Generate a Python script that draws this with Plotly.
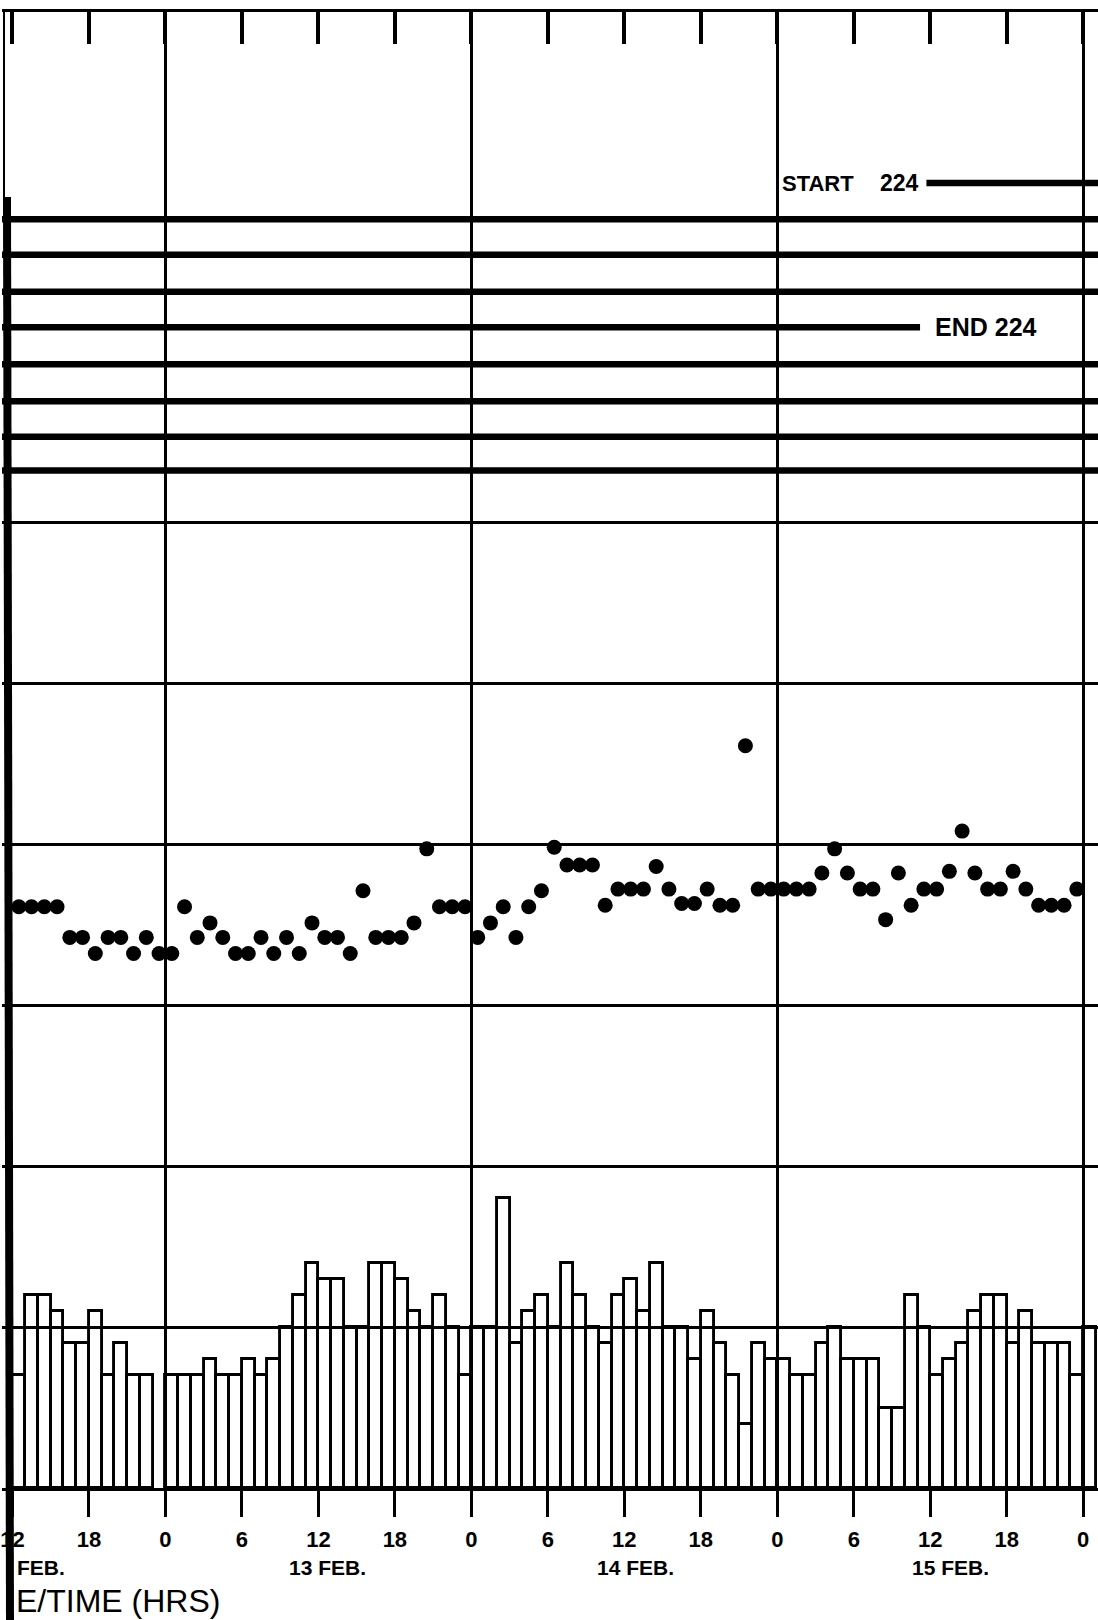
import plotly.graph_objects as go

# ---------------- data ----------------
# hourly bars (counts), hour index = hours since 12 FEB 00:00
bar_hours = list(range(12, 97))
bar_counts = [
    7, 12, 12, 11, 9, 9, 11, 7, 9, 7, 7, None,            # 12 FEB 12h-23h
    7, 7, 7, 8, 7, 7, 8, 7, 8, 10, 12, 14,                 # 13 FEB 0h-11h
    13, 13, 10, 10, 14, 14, 13, 11, 10, 12, 10, 7,         # 13 FEB 12h-23h
    10, 10, 18, 9, 11, 12, 10, 14, 12, 10, 9, 12,          # 14 FEB 0h-11h
    13, 11, 14, 10, 10, 8, 11, 9, 7, 4, 9, 8,              # 14 FEB 12h-23h
    8, 7, 7, 9, 10, 8, 8, 8, 5, 5, 12, 10,                 # 15 FEB 0h-11h
    7, 8, 9, 11, 12, 12, 9, 11, 9, 9, 9, 7,                # 15 FEB 12h-23h
    10,                                                    # 16 FEB 0h
]

# hourly dots
dot_hours = list(range(12, 96))
dot_values = [
    36.1, 36.1, 36.1, 36.1, 34.2, 34.2, 33.2, 34.2, 34.2, 33.2, 34.2, 33.2,
    33.2, 36.1, 34.2, 35.1, 34.2, 33.2, 33.2, 34.2, 33.2, 34.2, 33.2, 35.1,
    34.2, 34.2, 33.2, 37.1, 34.2, 34.2, 34.2, 35.1, 39.7, 36.1, 36.1, 36.1,
    34.2, 35.1, 36.1, 34.2, 36.1, 37.1, 39.8, 38.7, 38.7, 38.7, 36.2, 37.2,
    37.2, 37.2, 38.6, 37.2, 36.3, 36.3, 37.2, 36.2, 36.2, 46.1, 37.2, 37.2,
    37.2, 37.2, 37.2, 38.2, 39.7, 38.2, 37.2, 37.2, 35.3, 38.2, 36.2, 37.2,
    37.2, 38.3, 40.8, 38.2, 37.2, 37.2, 38.3, 37.2, 36.2, 36.2, 36.2, 37.2,
]

# heavy record lines
track_levels = [78.8, 76.6, 74.3, 72.1, 69.8, 67.5, 65.3, 63.2]
track_start = [11.0, 11.0, 11.0, 11.0, 11.0, 11.0, 11.0, 11.0]
track_end = [97.5, 97.5, 97.5, 83.2, 97.5, 97.5, 97.5, 97.5]
start224_level = 81.05
start224_from = 83.7
start224_to = 97.5

tick_hours = list(range(12, 97, 6))
tick_text = ["12", "18", "0", "6", "12", "18", "0", "6", "12", "18", "0", "6", "12", "18", "0"]
day_hours = [24, 48, 72, 96]
grid_levels = [10, 20, 30, 40, 50, 60]
# the scan is cropped on the left: only the visible part of the first date label / axis title
date_labels = ["FEB.", "13 FEB.", "14 FEB.", "15 FEB."]
date_label_hours = [12.2, 36.7, 60.9, 85.6]
axis_title = "E/TIME (HRS)"

# ---------------- layout geometry ----------------
W, H = 1098, 1620
TOP, BOT = 12, 132
PLOT_H = H - TOP - BOT
PX_PER_UNIT = 16.1
Y_MAX = PLOT_H / PX_PER_UNIT
X_RANGE = [11.18, 97.16]
BLACK = "black"
FONT = "Liberation Sans, Arial, sans-serif"


def py(ypx):
    """pixel row -> paper y"""
    return (H - BOT - ypx) / PLOT_H


fig = go.Figure()

fig.add_trace(go.Bar(
    x=[h + 0.5 for h in bar_hours], y=bar_counts, width=1.0,
    marker=dict(color="rgba(0,0,0,0)", line=dict(color=BLACK, width=2.9)),
    hoverinfo="skip",
))

for lv, s, e in zip(track_levels, track_start, track_end):
    fig.add_trace(go.Scatter(x=[s, e], y=[lv, lv], mode="lines",
                             line=dict(color=BLACK, width=6.5), hoverinfo="skip"))
fig.add_trace(go.Scatter(x=[start224_from, start224_to], y=[start224_level, start224_level],
                         mode="lines", line=dict(color=BLACK, width=6.5), hoverinfo="skip"))

fig.add_trace(go.Scatter(
    x=[h + 0.5 for h in dot_hours], y=dot_values, mode="markers",
    marker=dict(size=15, color=BLACK), hoverinfo="skip",
))

# empty traces so the overlay axes get drawn
fig.add_trace(go.Scatter(x=[], y=[], xaxis="x2", yaxis="y", showlegend=False))
fig.add_trace(go.Scatter(x=[], y=[], xaxis="x3", yaxis="y", showlegend=False))

tick_font = dict(family=FONT, size=22, color=BLACK, weight="bold")

fig.update_layout(
    width=W, height=H,
    margin=dict(l=0, r=0, t=TOP, b=BOT, pad=0),
    paper_bgcolor="white", plot_bgcolor="white",
    showlegend=False, bargap=0,
    xaxis=dict(
        range=X_RANGE, tickmode="array", tickvals=tick_hours, ticktext=tick_text,
        ticks="outside", ticklen=26, tickwidth=3, tickcolor=BLACK,
        showline=True, linewidth=3, linecolor=BLACK,
        showgrid=False, zeroline=False, tickfont=tick_font,
        ticklabeloverflow="allow", ticklabelstandoff=4,
    ),
    xaxis2=dict(
        range=X_RANGE, overlaying="x", side="top", anchor="y",
        tickmode="array", tickvals=tick_hours, ticks="inside", ticklen=32,
        tickwidth=3.5, tickcolor=BLACK, showticklabels=False,
        showline=True, linewidth=3, linecolor=BLACK, showgrid=False, zeroline=False,
    ),
    xaxis3=dict(
        range=X_RANGE, overlaying="x", anchor="y", tickmode="array", tickvals=day_hours,
        ticks="", showticklabels=False, showgrid=True, gridcolor=BLACK, gridwidth=3,
        showline=False, zeroline=False,
    ),
    yaxis=dict(
        range=[0, Y_MAX], tickmode="array", tickvals=grid_levels, showticklabels=False,
        ticks="", showgrid=True, gridcolor=BLACK, gridwidth=2.8,
        zeroline=False, showline=False,
    ),
)

# left border of the scanned sheet (axis line)
fig.add_shape(type="line", xref="paper", yref="paper", layer="above",
              x0=2 / W, x1=2 / W, y0=py(TOP), y1=py(197), line=dict(color=BLACK, width=2))
fig.add_shape(type="line", xref="paper", yref="paper", layer="above",
              x0=5 / W, x1=8 / W, y0=py(197), y1=py(H), line=dict(color=BLACK, width=8))

# text
fig.add_annotation(x=72.0, y=start224_level, xref="x", yref="y", text="START",
                   showarrow=False, xanchor="left", yanchor="middle", xshift=3,
                   font=dict(family=FONT, size=22, color=BLACK, weight="bold"))
fig.add_annotation(x=79.9, y=start224_level, xref="x", yref="y", text="224",
                   showarrow=False, xanchor="left", yanchor="middle",
                   font=dict(family=FONT, size=23, color=BLACK, weight="bold"))
fig.add_annotation(x=84.2, y=track_levels[3], xref="x", yref="y", text="END 224",
                   showarrow=False, xanchor="left", yanchor="middle",
                   font=dict(family=FONT, size=25, color=BLACK, weight="bold"))

for lab, hx in zip(date_labels, date_label_hours):
    fig.add_annotation(x=hx, y=py(1567), xref="x", yref="paper", text=lab, showarrow=False,
                       xanchor="left" if lab == "FEB." else "center", yanchor="middle",
                       font=dict(family=FONT, size=21, color=BLACK, weight="bold"))

fig.add_annotation(x=12 / W, y=py(1601), xref="paper", yref="paper", text=axis_title,
                   showarrow=False, xanchor="left", yanchor="middle",
                   font=dict(family=FONT, size=32, color=BLACK))

fig.write_html("out.html")
